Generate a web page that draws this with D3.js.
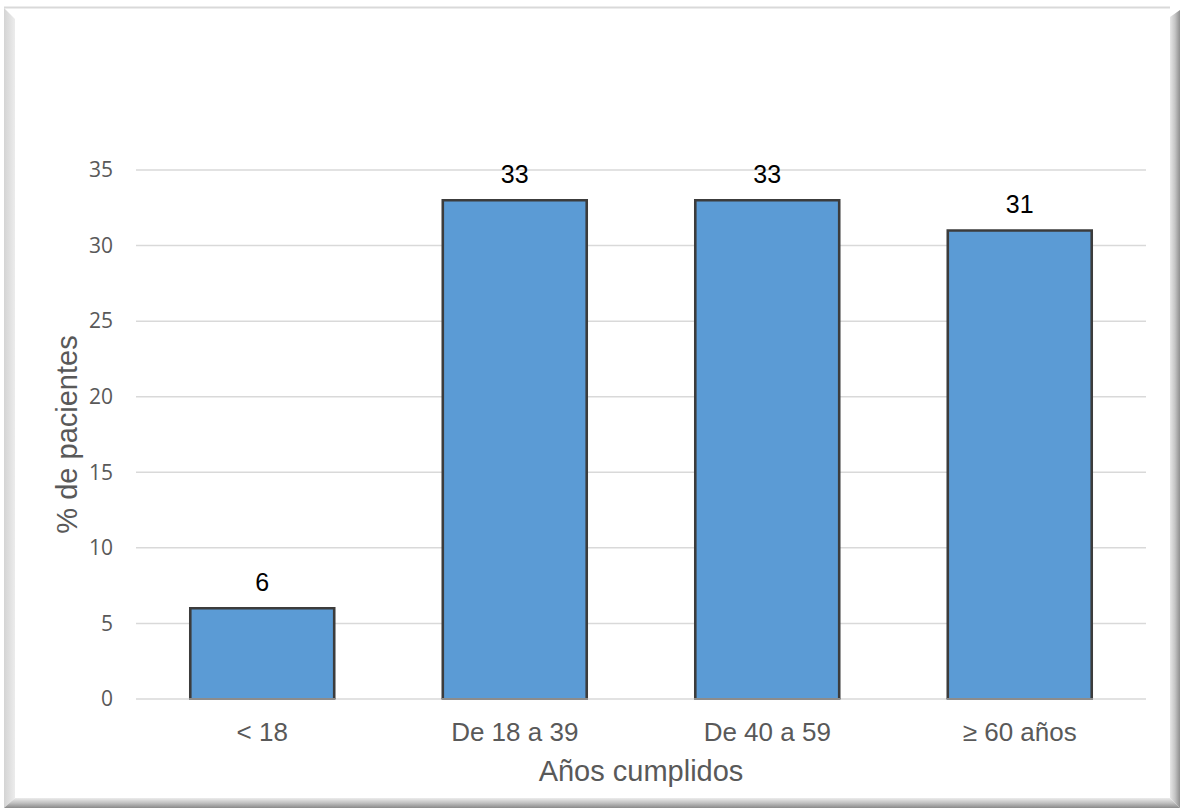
<!DOCTYPE html>
<html>
<head>
<meta charset="utf-8">
<script src="https://cdn.jsdelivr.net/npm/d3@7"></script>
<style>
  html, body { margin: 0; padding: 0; background: #ffffff; }
  svg { display: block; }
</style>
</head>
<body>
<svg id="chart" width="1180" height="808"></svg>
<script>
// Age groups and share of patients (%)
const categories = ["< 18", "De 18 a 39", "De 40 a 59", "≥ 60 años"];
const values = [6, 33, 33, 31];
const yTicks = [0, 5, 10, 15, 20, 25, 30, 35];
const xTitle = "Años cumplidos";
const yTitle = "% de pacientes";

(function () {
const svg = d3.select("#chart");
const W = 1180, H = 808;

// ---- bevelled frame ----
const defs = svg.append("defs");
function grad(id, x1, y1, x2, y2, stops) {
  const g = defs.append("linearGradient").attr("id", id)
    .attr("x1", x1).attr("y1", y1).attr("x2", x2).attr("y2", y2);
  stops.forEach(([o, c]) => g.append("stop").attr("offset", o).attr("stop-color", c));
}
grad("gLeft", 0, 0, 1, 0, [[0, "#d4d4d4"], [1, "#ececec"]]);
grad("gRight", 0, 0, 1, 0, [[0, "#e6e6e6"], [0.5, "#c4c4c4"], [1, "#8e8e8e"]]);
grad("gBottom", 0, 0, 0, 1, [[0, "#ececec"], [0.5, "#c0c0c0"], [1, "#8a8a8a"]]);

svg.append("rect").attr("x", 0).attr("y", 0).attr("width", W).attr("height", H).attr("fill", "#ffffff");
// top edge
svg.append("rect").attr("x", 4).attr("y", 6.5).attr("width", 1166).attr("height", 2).attr("fill", "#d9d9d9");
// left bevel
svg.append("polygon").attr("points", "4,8 15,19 15,798 4,808").attr("fill", "url(#gLeft)");
// right bevel
svg.append("polygon").attr("points", "1170,17 1180,10 1180,808 1170,798").attr("fill", "url(#gRight)");
// bottom bevel
svg.append("polygon").attr("points", "4,808 15,798 1170,798 1180,808").attr("fill", "url(#gBottom)");

// ---- plot area ----
const pLeft = 136, pRight = 1146, pTop = 170, pBottom = 699;

const x = d3.scaleBand().domain(categories).range([pLeft, pRight]).paddingInner(0.43).paddingOuter(0.215);
const y = d3.scaleLinear().domain([0, 35]).range([pBottom, pTop]);

// gridlines
svg.append("g").selectAll("line").data(yTicks).join("line")
  .attr("x1", pLeft).attr("x2", pRight)
  .attr("y1", d => y(d)).attr("y2", d => y(d))
  .attr("stroke", "#d9d9d9").attr("stroke-width", 1.5);

// y tick labels
const yAxis = d3.axisLeft(y).tickValues(yTicks).tickSize(0).tickPadding(0);
const gy = svg.append("g").attr("transform", `translate(113,0)`).call(yAxis);
gy.select(".domain").remove();
gy.selectAll("text")
  .attr("font-family", "'Open Sans', sans-serif")
  .attr("font-size", 21)
  .attr("fill", "#595959");

// bars
const bars = svg.append("g");
bars.selectAll("rect").data(values).join("rect")
  .attr("x", (d, i) => x(categories[i]))
  .attr("y", d => y(d))
  .attr("width", x.bandwidth())
  .attr("height", d => y(0) - y(d))
  .attr("fill", "#5b9bd5");
bars.selectAll("path").data(values).join("path")
  .attr("d", (d, i) => {
    const x0 = x(categories[i]), x1 = x0 + x.bandwidth();
    return `M${x0},${y(0)}V${y(d)}H${x1}V${y(0)}`;
  })
  .attr("fill", "none").attr("stroke", "#3c3c3c").attr("stroke-width", 2.6);
// bar bases
bars.selectAll("line").data(values).join("line")
  .attr("x1", (d, i) => x(categories[i]) - 1.3)
  .attr("x2", (d, i) => x(categories[i]) + x.bandwidth() + 1.3)
  .attr("y1", y(0)).attr("y2", y(0))
  .attr("stroke", "#8c8c8c").attr("stroke-width", 2);

// value labels
svg.append("g").selectAll("text").data(values).join("text")
  .attr("x", (d, i) => x(categories[i]) + x.bandwidth() / 2)
  .attr("y", d => y(d) - 17)
  .attr("text-anchor", "middle")
  .attr("font-family", "'Liberation Sans', Arial, sans-serif")
  .attr("font-size", 25)
  .attr("fill", "#000000")
  .text(d => d);

// category labels
const xAxis = d3.axisBottom(x).tickSize(0).tickPadding(0);
const gx = svg.append("g").attr("transform", `translate(0,741)`).call(xAxis);
gx.select(".domain").remove();
gx.selectAll("text")
  .attr("dy", 0)
  .attr("font-family", "'Liberation Sans', Arial, sans-serif")
  .attr("font-size", 26)
  .attr("fill", "#595959");

// axis titles
svg.append("text")
  .attr("x", (pLeft + pRight) / 2).attr("y", 781)
  .attr("text-anchor", "middle")
  .attr("font-family", "'Liberation Sans', Arial, sans-serif")
  .attr("font-size", 29)
  .attr("fill", "#595959")
  .text(xTitle);

svg.append("text")
  .attr("transform", `translate(77,${(pTop + pBottom) / 2}) rotate(-90)`)
  .attr("text-anchor", "middle")
  .attr("font-family", "'Liberation Sans', Arial, sans-serif")
  .attr("font-size", 29)
  .attr("fill", "#595959")
  .text(yTitle);
})();
</script>
</body>
</html>
